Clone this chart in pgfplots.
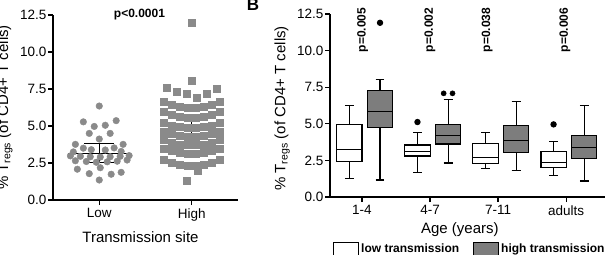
\documentclass[border=0pt]{standalone}
\usepackage{fontspec}
\setmainfont{Liberation Sans}
\usepackage{pgfplots}
\pgfplotsset{compat=1.18}
\usepgfplotslibrary{statistics}

\definecolor{ptgray}{RGB}{138,138,138}
\definecolor{boxgray}{RGB}{125,125,125}

\tikzset{pval/.style={rotate=90, font=\bfseries\fontsize{12bp}{14bp}\selectfont}}

\pgfplotsset{
  panel/.style={
    scale only axis,
    clip=false,
    axis x line*=bottom,
    axis y line*=left,
    axis line style={line width=1.3bp,-},
    tick align=outside,
    major tick length=5bp,
    tick style={line width=1.3bp,black},
    ymin=0, ymax=12.5,
    ytick={0,2.5,5,7.5,10,12.5},
    y tick label style={/pgf/number format/fixed,
      /pgf/number format/fixed zerofill,
      /pgf/number format/precision=1},
    /pgf/number format/assume math mode=true,
    tick label style={font=\fontsize{13.5bp}{15bp}\selectfont},
    yticklabel style={inner sep=1.5bp},
    label style={font=\fontsize{15bp}{17bp}\selectfont},
  },
  wbox/.style={draw=black, fill=white, line width=1.1bp,
    mark=*, mark size=2.6bp, mark options={fill=black,draw=black},
    boxplot/draw direction=y,
    boxplot/box extend=0.37, boxplot/whisker extend=0.13, forget plot},
  gbox/.style={wbox, fill=boxgray},
}

\begin{document}
\begin{tikzpicture}
\path[use as bounding box] (0bp,0bp) rectangle (605bp,255bp);

% ---------- transmission site: individual values ----------
\begin{axis}[panel,
  at={(53bp,55bp)}, anchor=south west,
  width=185bp, height=185bp,
  xmin=0.5, xmax=2.5,
  xtick={1,2}, xticklabels={Low,High},
  xlabel={Transmission site},
  ylabel={\% T\textsubscript{regs} (of CD4+ T cells)},
  xlabel style={at={(axis description cs:0.473,-0.2)},anchor=center},
  ylabel style={at={(axis description cs:-0.26,0.5)},anchor=center},
]
% low transmission
\addplot[only marks, mark=*, mark size=3.3bp, color=ptgray] coordinates {
 (1.000,6.35)
 (0.828,5.28) (0.946,4.97) (1.065,5.05) (1.183,5.36)
 (0.892,4.50) (1.118,4.50)
 (1.000,4.12)
 (0.742,3.76) (1.258,3.76)
 (0.828,3.50) (1.161,3.52)
 (0.720,3.25) (0.914,3.40) (1.065,3.38) (1.237,3.28)
 (0.688,2.98) (0.796,2.95) (0.903,2.92) (1.011,2.90) (1.118,2.92) (1.226,2.95) (1.323,3.00)
 (0.742,2.65) (0.860,2.60) (0.968,2.55) (1.086,2.58) (1.194,2.62) (1.301,2.70)
 (0.763,2.08) (1.011,2.18) (1.237,1.87)
 (0.892,1.78) (1.129,1.74)
 (1.000,1.35)
};
% high transmission
\addplot[only marks, mark=square*, mark size=3.5bp, color=ptgray] coordinates {
 (2.000,11.95) (1.995,8.05)
 (1.731,7.61) (1.839,7.32) (1.946,7.16) (2.054,6.94) (2.161,7.16) (2.269,7.50)
 (1.699,6.64) (1.785,6.45) (1.871,6.32) (1.957,6.26) (2.043,6.26) (2.129,6.32) (2.215,6.45) (2.301,6.64)
 (1.699,5.94) (1.785,5.75) (1.871,5.62) (1.957,5.56) (2.043,5.56) (2.129,5.62) (2.215,5.75) (2.301,5.94)
 (1.699,5.24) (1.785,5.05) (1.871,4.92) (1.957,4.86) (2.043,4.86) (2.129,4.92) (2.215,5.05) (2.301,5.24)
 (1.699,4.64) (1.785,4.45) (1.871,4.32) (1.957,4.26) (2.043,4.26) (2.129,4.32) (2.215,4.45) (2.301,4.64)
 (1.699,4.09) (1.785,3.90) (1.871,3.77) (1.957,3.71) (2.043,3.71) (2.129,3.77) (2.215,3.90) (2.301,4.09)
 (1.699,3.49) (1.785,3.30) (1.871,3.17) (1.957,3.11) (2.043,3.11) (2.129,3.17) (2.215,3.30) (2.301,3.49)
 (1.699,2.69) (1.785,2.50) (1.871,2.37) (1.957,2.31) (2.043,2.31) (2.129,2.37) (2.215,2.50) (2.301,2.69)
 (2.065,1.98) (1.946,1.30)
};
% median with interquartile range
\addplot[black, line width=1.4bp] coordinates {(0.667,3.15) (1.333,3.15)};
\addplot[black, line width=1.4bp] coordinates {(0.84,3.83) (1.16,3.83)};
\addplot[black, line width=1.4bp] coordinates {(0.84,2.52) (1.16,2.52)};
\addplot[black, line width=1.4bp] coordinates {(1,2.52) (1,3.83)};
\addplot[black, line width=1.4bp] coordinates {(1.67,4.44) (2.33,4.44)};
\addplot[black, line width=1.4bp] coordinates {(1.83,5.45) (2.17,5.45)};
\addplot[black, line width=1.4bp] coordinates {(1.83,3.65) (2.17,3.65)};
\addplot[black, line width=1.4bp] coordinates {(2,3.65) (2,5.45)};
\node[font=\bfseries\fontsize{12bp}{14bp}\selectfont] at (axis cs:1.435,12.5) {p<0.0001};
\end{axis}

\node[font=\bfseries\fontsize{17bp}{19bp}\selectfont] at (253bp,250bp) {B};

% ---------- age groups: box plots ----------
\begin{axis}[panel,
  at={(330bp,58bp)}, anchor=south west,
  width=277bp, height=183bp,
  xmin=-0.47, xmax=3.6,
  xtick={0,1,2,3}, xticklabels={1-4,4-7,7-11,adults},
  xlabel={Age (years)},
  ylabel={\% T\textsubscript{regs} (of CD4+ T cells)},
  xlabel style={at={(axis description cs:0.469,-0.18)},anchor=center},
  ylabel style={at={(axis description cs:-0.173,0.484)},anchor=center},
  legend style={at={(axis description cs:0.0,-0.285)}, anchor=west,
    draw=none, fill=none, legend columns=2,
    font=\bfseries\fontsize{12bp}{14bp}\selectfont,
    /tikz/every even column/.append style={column sep=12bp}},
  legend image code/.code={\draw[#1,line width=1bp] (0bp,-7bp) rectangle (25bp,7bp);},
]
% 1-4
\addplot[wbox, boxplot prepared={draw position=-0.185, lower whisker=1.28,
  lower quartile=2.44, median=3.26, upper quartile=4.98, upper whisker=6.28}]
  coordinates {};
\addplot[gbox, boxplot prepared={draw position=0.265, lower whisker=1.16,
  lower quartile=4.76, median=5.83, upper quartile=7.29, upper whisker=8.0}]
  table[row sep=\\, y index=0] {data\\ 11.9\\};
% 4-7
\addplot[wbox, boxplot prepared={draw position=0.815, lower whisker=1.66,
  lower quartile=2.80, median=3.10, upper quartile=3.55, upper whisker=4.39}]
  table[row sep=\\, y index=0] {data\\ 5.12\\};
\addplot[gbox, boxplot prepared={draw position=1.265, lower whisker=2.32,
  lower quartile=3.62, median=4.19, upper quartile=4.96, upper whisker=6.63}]
  coordinates {};
% two outliers of equal value, set side by side
\addplot[only marks, mark=*, mark size=2.6bp, black, forget plot]
  coordinates {(1.20,7.08) (1.33,7.08)};
% 7-11
\addplot[wbox, boxplot prepared={draw position=1.815, lower whisker=1.96,
  lower quartile=2.27, median=2.68, upper quartile=3.64, upper whisker=4.39}]
  coordinates {};
\addplot[gbox, boxplot prepared={draw position=2.265, lower whisker=1.78,
  lower quartile=3.03, median=3.85, upper quartile=4.87, upper whisker=6.51}]
  coordinates {};
% adults
\addplot[wbox, boxplot prepared={draw position=2.815, lower whisker=1.46,
  lower quartile=2.03, median=2.37, upper quartile=3.12, upper whisker=3.78}]
  table[row sep=\\, y index=0] {data\\ 4.96\\};
\addplot[gbox, boxplot prepared={draw position=3.265, lower whisker=1.09,
  lower quartile=2.62, median=3.39, upper quartile=4.21, upper whisker=6.22}]
  coordinates {};

\addlegendimage{draw=black,fill=white}
\addlegendentry{low transmission}
\addlegendimage{draw=black,fill=boxgray}
\addlegendentry{high transmission}

\node[pval] at (axis cs:0.01,11.4) {p=0.005};
\node[pval] at (axis cs:1.0,11.4) {p=0.002};
\node[pval] at (axis cs:1.84,11.4) {p=0.038};
\node[pval] at (axis cs:2.98,11.4) {p=0.006};
\end{axis}
\end{tikzpicture}
\end{document}
